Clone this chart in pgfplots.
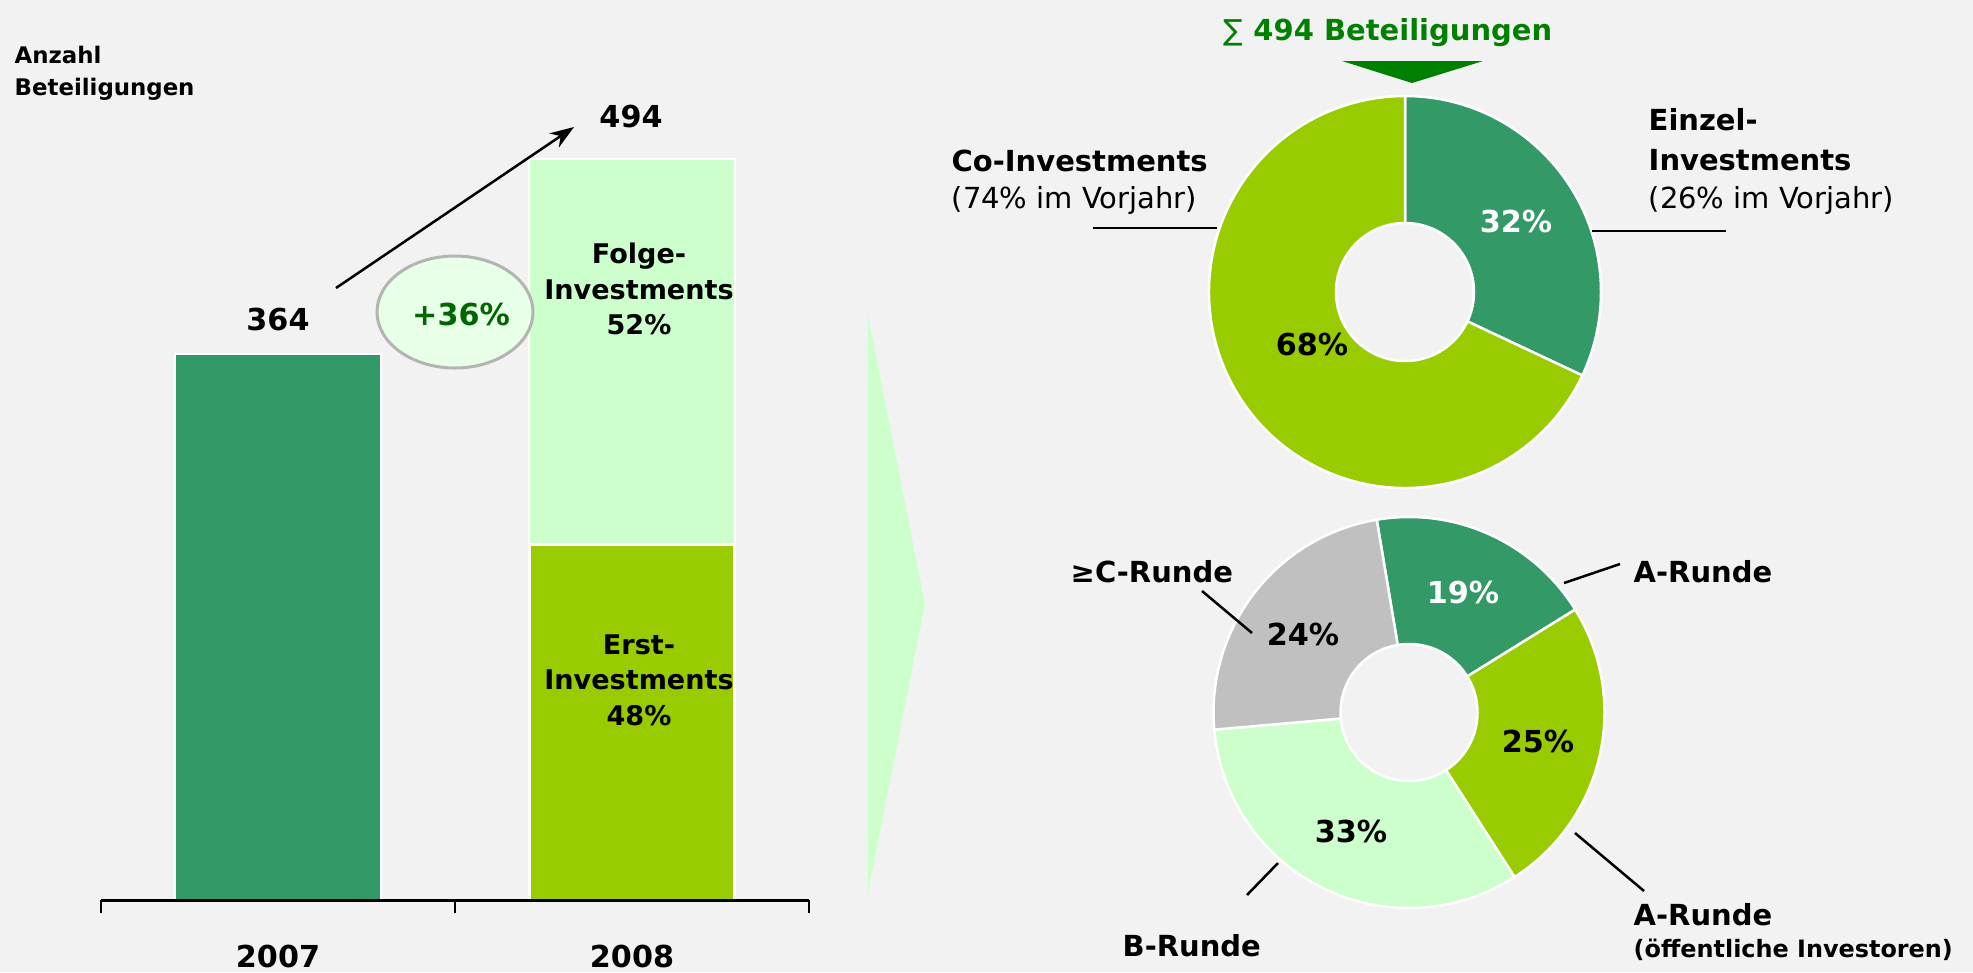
\documentclass[border=0pt]{standalone}
\usepackage{fontspec}
\setmainfont{DejaVu Sans}
\usepackage{pgfplots}
\pgfplotsset{compat=1.18}
\usetikzlibrary{arrows.meta}
\definecolor{bg}{HTML}{F2F2F2}
\definecolor{cDark}{HTML}{339966}
\definecolor{cYel}{HTML}{99CC00}
\definecolor{cLight}{HTML}{CCFFCC}
\definecolor{cGray}{HTML}{C0C0C0}
\definecolor{tGreen}{HTML}{008000}
\definecolor{pGreen}{HTML}{006600}
\definecolor{ellFill}{HTML}{E8FFE8}
\definecolor{ellDraw}{HTML}{B4B4B4}
\newcommand\fL{\fontsize{7.7pt}{9.9pt}\selectfont\bfseries}
\newcommand\fR{\fontsize{8.25pt}{10.8pt}\selectfont}
\newcommand\fN{\fontsize{8.6pt}{10pt}\selectfont\bfseries}
\newcommand\fS{\fontsize{6.5pt}{8pt}\selectfont\bfseries}
\newcommand\fO{\fontsize{6.8pt}{8pt}\selectfont\bfseries}
\begin{document}
\begin{tikzpicture}
\useasboundingbox (0,0) rectangle (197.3mm,-97.2mm);
\fill[bg] (0,0) rectangle (197.3mm,-97.2mm);
% ---------------- bar chart ----------------
\begin{axis}[
  at={(10.1mm,-90mm)}, anchor=south west,
  scale only axis, width=70.8mm, height=81mm,
  xmin=-0.5, xmax=1.5, ymin=0, ymax=540,
  axis x line*=bottom, axis y line=none,
  axis on top,
  x axis line style={line width=0.3mm, black},
  xtick={0,1}, xticklabels={\textbf{2007},\textbf{2008}},
  major tick length=0pt,
  xticklabel style={font=\fN, anchor=base, yshift=-6.7mm, inner sep=0pt},
  extra x ticks={-0.5,0.5,1.5}, extra x tick labels={},
  extra x tick style={major tick length=1.3mm, tick align=outside, xtick style={line width=0.2mm, black}},
  clip=false,
]
\addplot[ybar, bar width=0.58, bar shift=0pt, fill=cDark, draw=white, line width=0.2mm] coordinates {(0,364)};
\addplot[ybar, bar width=0.58, bar shift=0pt, fill=cLight, draw=white, line width=0.2mm] coordinates {(1,494)};
\addplot[ybar, bar width=0.58, bar shift=0pt, fill=cYel, draw=white, line width=0.3mm] coordinates {(1,237)};
\end{axis}
% ---------------- top donut ----------------
\begin{axis}[at={(140.5mm,-29.2mm)}, anchor=center, scale only axis,
  width=39.2mm, height=39.2mm, xmin=-1, xmax=1, ymin=-1, ymax=1,
  hide axis, clip=false]
\xdef\angA{90}
\foreach \val/\col in {32/cDark,68/cYel}{%
  \pgfmathsetmacro\angB{\angA-\val*3.6}%
  \edef\tmp{\noexpand\filldraw[fill=\col,draw=white,line width=0.25mm] (axis cs:0,0) -- ++(\angA:19.6mm) arc[start angle=\angA,end angle=\angB,radius=19.6mm] -- cycle;}%
  \tmp
  \xdef\angA{\angB}%
}
\filldraw[fill=bg,draw=white,line width=0.25mm] (axis cs:0,0) circle[radius=6.9mm];
\end{axis}
% ---------------- bottom donut ----------------
\begin{axis}[at={(140.9mm,-71.25mm)}, anchor=center, scale only axis,
  width=39.1mm, height=39.1mm, xmin=-1, xmax=1, ymin=-1, ymax=1,
  hide axis, clip=false]
\xdef\angA{99.5}
\foreach \val/\col in {19/cDark,25/cYel,33/cLight,24/cGray}{%
  \pgfmathsetmacro\angB{\angA-\val*360/101}%
  \edef\tmp{\noexpand\filldraw[fill=\col,draw=white,line width=0.25mm] (axis cs:0,0) -- ++(\angA:19.55mm) arc[start angle=\angA,end angle=\angB,radius=19.55mm] -- cycle;}%
  \tmp
  \xdef\angA{\angB}%
}
\filldraw[fill=bg,draw=white,line width=0.25mm] (axis cs:0,0) circle[radius=6.85mm];
\end{axis}
% ---------------- annotations ----------------
\begin{scope}[x=0.1mm,y=-0.1mm, every node/.style={inner sep=0pt}]
\fill[cLight] (868,315) -- (925,604) -- (868,893) -- cycle;
\node[font=\fS, anchor=base west] at (14,63) {Anzahl};
\node[font=\fS, anchor=base west] at (14,95) {Beteiligungen};
\node[font=\fN, anchor=base] at (278,330) {364};
\node[font=\fN, anchor=base] at (631,127) {494};
\draw[-{Stealth[length=2.4mm,width=1.7mm]}, line width=0.25mm] (336,288) -- (574,127);
\filldraw[fill=ellFill, draw=ellDraw, line width=0.3mm] (455,312) ellipse[x radius=7.8mm, y radius=5.6mm];
\node[font=\fN, text=pGreen, anchor=base] at (461,325) {+36\%};
\node[font=\fL, anchor=base] at (639,263) {Folge-};
\node[font=\fL, anchor=base] at (639,299) {Investments};
\node[font=\fL, anchor=base] at (639,334) {52\%};
\node[font=\fL, anchor=base] at (639,654) {Erst-};
\node[font=\fL, anchor=base] at (639,689) {Investments};
\node[font=\fL, anchor=base] at (639,725) {48\%};
% top right
\node[font=\fR\bfseries, text=tGreen, anchor=base] at (1388,40) {{\mdseries ∑} 494 Beteiligungen};
\fill[tGreen] (1342,61) -- (1483,61) -- (1412,83) -- cycle;
\node[font=\fR\bfseries, anchor=base west] at (951,171) {Co-Investments};
\node[font=\fR, anchor=base west] at (951,208) {(74\% im Vorjahr)};
\draw[line width=0.25mm] (1093,228) -- (1217,228);
\node[font=\fR\bfseries, anchor=base west] at (1648,130) {Einzel-};
\node[font=\fR\bfseries, anchor=base west] at (1648,170) {Investments};
\node[font=\fR, anchor=base west] at (1648,208) {(26\% im Vorjahr)};
\draw[line width=0.25mm] (1592,231) -- (1726,231);
\node[font=\fN, text=white, anchor=base] at (1516,232) {32\%};
\node[font=\fN, anchor=base] at (1312,355) {68\%};
% bottom right
\node[font=\fR\bfseries, anchor=base west] at (1070,582) {≥C-Runde};
\draw[line width=0.25mm] (1202,591) -- (1252,633);
\node[font=\fN, anchor=base] at (1303,645) {24\%};
\node[font=\fN, text=white, anchor=base] at (1463,603) {19\%};
\node[font=\fR\bfseries, anchor=base west] at (1633,582) {A-Runde};
\draw[line width=0.25mm] (1564,583) -- (1620,564);
\node[font=\fN, anchor=base] at (1538,752) {25\%};
\node[font=\fN, anchor=base] at (1351,842) {33\%};
\draw[line width=0.25mm] (1278,863) -- (1247,895);
\node[font=\fR\bfseries, anchor=base west] at (1122,956) {B-Runde};
\draw[line width=0.25mm] (1575,833) -- (1644,891);
\node[font=\fR\bfseries, anchor=base west] at (1633,925) {A-Runde};
\node[font=\fO, anchor=base west] at (1633,957) {(öffentliche Investoren)};
\end{scope}
\end{tikzpicture}
\end{document}
